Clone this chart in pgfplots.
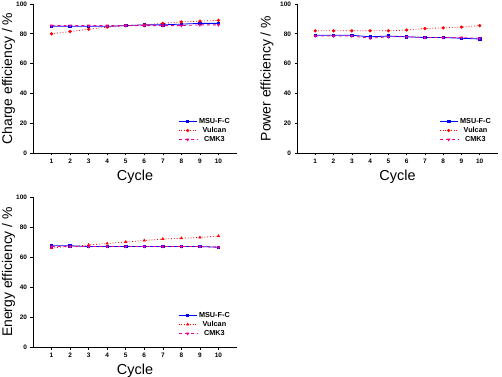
\documentclass[border=0pt]{standalone}
\usepackage{fontspec}
\setmainfont{Liberation Sans}
\usepackage{pgfplots}
\pgfplotsset{compat=1.18}

\pgfplotsset{
  effplot/.style={
    scale only axis,
    width=204bp, height=149bp,
    xmin=0, xmax=11, ymin=0, ymax=100,
    xtick={1,...,10}, ytick={0,20,...,100},
    axis x line*=bottom, axis y line*=left,
    tick align=outside,
    major tick length=2.5bp,
    tick style={black, line width=0.6pt},
    axis line style={black, line width=0.8pt},
    /pgf/number format/assume math mode=true,
    tick label style={font=\bfseries\fontsize{6.5}{7}\selectfont},
    xlabel={Cycle},
    xlabel style={font=\fontsize{14.5}{16}\selectfont, at={(0.5,0)}, anchor=center, yshift=-24bp},
    % the label is already turned by 90 degrees, so yshift moves it leftwards
    ylabel style={font=\fontsize{14}{16}\selectfont, at={(0,0.5)}, anchor=center, yshift=24.5bp},
    legend style={draw=none, fill=none, at={(0.99,0.04)}, anchor=south east,
      font=\bfseries\fontsize{7.3}{8}\selectfont, row sep=-1.6bp,
      /tikz/every even column/.append style={column sep=1bp}},
    legend image code/.code={
      \draw[#1] (0bp,0bp) -- (9bp,0bp) -- (18bp,0bp);
      \draw[#1, solid] plot coordinates {(9bp,0bp)};},
    every axis plot/.append style={line width=0.8pt, mark size=1.2pt},
  },
  msu/.style={blue, solid, mark=square*, mark options={solid, fill=blue}},
  vul/.style={red, dotted, mark=*, mark options={solid, fill=red}},
  cmk/.style={magenta, dashed, mark=triangle*, mark options={solid, fill=magenta, rotate=180}},
}

\begin{document}
\begin{tikzpicture}
\clip (0,0) rectangle (502bp,377bp);
\useasboundingbox (0,0) rectangle (502bp,377bp);

% Charge efficiency
\begin{axis}[effplot, at={(33bp,224bp)}, anchor=south west,
  ylabel={Charge efficiency  / \%}]
\addplot[msu] coordinates {(1,85) (2,85) (3,85) (4,85) (5,85.5) (6,86) (7,86) (8,86.5) (9,87) (10,87)};
\addplot[vul] coordinates {(1,80) (2,81.5) (3,83) (4,84.5) (5,85.5) (6,86) (7,87) (8,88) (9,88.5) (10,89)};
\addplot[cmk] coordinates {(1,85.5) (2,85.5) (3,85.5) (4,85.5) (5,85.5) (6,85.5) (7,85.5) (8,85.5) (9,86) (10,86)};
\legend{MSU-F-C, Vulcan, CMK3}
\end{axis}

% Power efficiency
\begin{axis}[effplot, width=201bp, at={(297bp,224bp)}, anchor=south west,
  ylabel={Power efficiency  / \%}, ylabel style={yshift=5.5bp}]
\addplot[msu] coordinates {(1,79) (2,79) (3,79) (4,78) (5,78.5) (6,78) (7,77.5) (8,77.5) (9,77) (10,76.5)};
\addplot[vul] coordinates {(1,82) (2,82) (3,82) (4,82) (5,82) (6,82.5) (7,83.5) (8,84) (9,84.5) (10,85.5)};
\addplot[cmk] coordinates {(1,78.5) (2,78.5) (3,78.5) (4,77) (5,78) (6,78) (7,77.5) (8,77.5) (9,77.5) (10,77)};
\legend{MSU-F-C, Vulcan, CMK3}
\end{axis}

% Energy efficiency
\begin{axis}[effplot, height=150bp, at={(33bp,30bp)}, anchor=south west,
  ylabel={Energy efficiency  / \%}]
\addplot[msu] coordinates {(1,67.5) (2,67.5) (3,67) (4,67) (5,67) (6,67) (7,67) (8,67) (9,67) (10,66.5)};
\addplot[vul, mark=triangle*] coordinates {(1,66) (2,67) (3,68) (4,69) (5,70) (6,71) (7,72) (8,72.5) (9,73) (10,74)};
\addplot[cmk] coordinates {(1,67) (2,67) (3,67) (4,67) (5,67) (6,67) (7,67) (8,67) (9,67) (10,66.5)};
\legend{MSU-F-C, Vulcan, CMK3}
\end{axis}
\end{tikzpicture}
\end{document}
